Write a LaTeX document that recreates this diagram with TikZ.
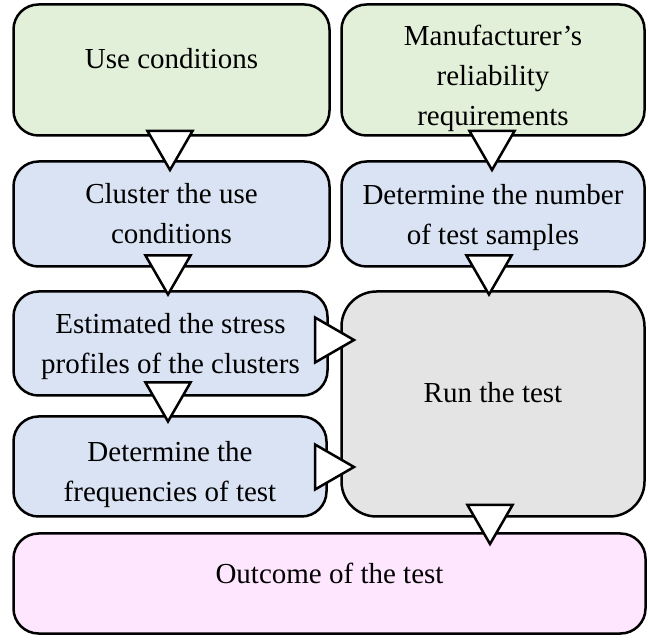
\documentclass[tikz,border=0pt]{standalone}
\usepackage{fontspec}
\setmainfont{Liberation Serif}
\usetikzlibrary{shapes.geometric}
\definecolor{usegreen}{HTML}{E2F0D9}
\definecolor{stepblue}{HTML}{DAE3F3}
\definecolor{rungray}{HTML}{E4E4E4}
\definecolor{outpink}{HTML}{FFE6FF}
\tikzset{
  stage/.style={draw, line width=2.5pt, rounded corners=25pt, align=center,
    font=\fontsize{29}{40}\selectfont, inner sep=0pt},
  downtri/.style={draw, fill=white, line width=2.5pt, regular polygon,
    regular polygon sides=3, shape border rotate=180, minimum size=52pt, inner sep=0pt},
  righttri/.style={downtri, shape border rotate=270}
}
\begin{document}
\begin{tikzpicture}[x=1pt,y=1pt]
\useasboundingbox (0,0) rectangle (648,640);
\node[stage, fill=usegreen, minimum width=316pt, minimum height=131pt, text depth=24pt] (use) at (171.5,570) {Use conditions};
\node[stage, fill=usegreen, minimum width=303pt, minimum height=131pt, text height=112pt, text depth=0pt] (manu) at (493,570) {Manufacturer's\\reliability\\requirements};
\node[stage, fill=stepblue, minimum width=316pt, minimum height=105pt] (cluster) at (171.5,426) {Cluster the use\\conditions};
\node[stage, fill=stepblue, minimum width=303pt, minimum height=105pt, text depth=0pt] (number) at (493,426) {Determine the number\\of test samples};
\node[stage, fill=stepblue, minimum width=314pt, minimum height=104pt, text depth=0pt] (stress) at (170.5,296.5) {Estimated the stress\\profiles of the clusters};
\node[stage, fill=stepblue, minimum width=313pt, minimum height=100pt, text height=70pt, text depth=0pt] (freq) at (170,173.5) {Determine the\\frequencies of test};
\node[stage, fill=rungray, rounded corners=35pt, minimum width=303pt, minimum height=225pt, text depth=24pt] (run) at (493,236) {Run the test};
\node[stage, fill=outpink, minimum width=632pt, minimum height=100pt, text depth=20pt] (outcome) at (329.5,56.5) {Outcome of the test};

\node[downtri] (t1) at (170,496) {};
\node[downtri] (t2) at (492,496) {};
\node[downtri] (t3) at (168,371.5) {};
\node[downtri] (t4) at (489,371.5) {};
\node[downtri] (t5) at (168,244.5) {};
\node[righttri] (t6) at (328,300) {};
\node[righttri] (t7) at (328,173) {};
\node[downtri] (t8) at (490,122) {};
\end{tikzpicture}
\end{document}
